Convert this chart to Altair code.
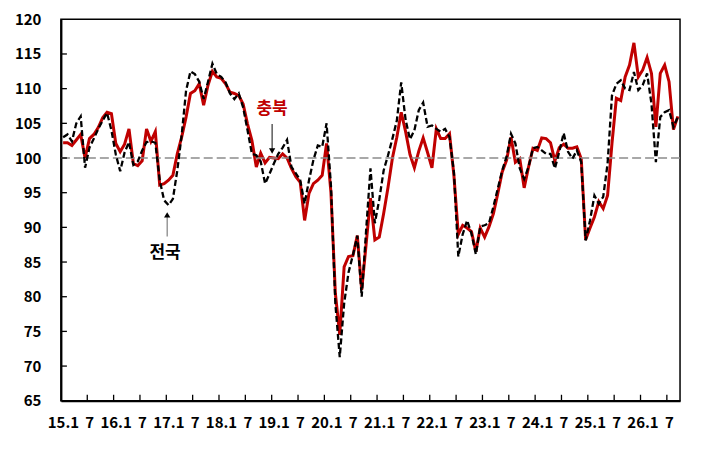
import altair as alt
import pandas as pd

# Monthly index, Jan 2015 .. Sep 2026 (category index 0..140)
chungbuk = [
    102.2, 102.2, 101.8, 102.6, 103.4, 100.0, 102.8, 103.4, 104.4, 105.8,
    106.6, 106.4, 102.1, 100.9, 102.0, 104.2, 99.2, 98.9, 99.6, 104.2,
    102.4, 103.8, 96.1, 96.3, 96.8, 97.5, 100.6, 103.0, 105.9, 109.3,
    109.7, 110.7, 107.6, 110.5, 112.5, 111.7, 111.5, 110.7, 109.5, 109.3,
    109.0, 107.8, 104.9, 102.5, 98.7, 100.7, 99.3, 100.1, 100.0, 99.9,
    100.6, 100.0, 98.5, 97.3, 96.5, 91.0, 94.9, 96.3, 96.8, 97.5,
    102.1, 95.0, 80.5, 74.5, 84.3, 85.8, 85.9, 88.8, 81.0, 87.5,
    94.2, 88.2, 88.6, 92.0, 95.8, 100.0, 103.0, 106.6, 103.8, 100.5,
    98.6, 101.0, 102.9, 100.8, 98.6, 104.2, 102.8, 102.8, 103.5, 97.5,
    89.0, 90.3, 89.9, 89.4, 86.5, 89.9, 88.6, 90.1, 92.0, 94.9,
    98.0, 99.7, 103.0, 99.4, 99.9, 95.7, 98.7, 101.4, 101.1, 102.9,
    102.8, 102.2, 99.6, 101.5, 102.0, 101.4, 101.4, 101.6, 99.9, 88.2,
    89.9, 91.5, 93.7, 92.7, 94.6, 102.1, 108.6, 108.3, 111.7, 113.4,
    116.6, 111.7, 112.7, 114.5, 112.2, 104.5, 112.2, 113.4, 111.0, 104.1,
    106.0,
]
national = [
    103.0, 103.4, 102.4, 105.0, 106.0, 98.6, 101.5, 102.8, 104.2, 105.4,
    106.5, 104.0, 100.5, 98.1, 100.8, 102.3, 99.0, 99.5, 101.1, 102.3,
    102.4, 102.2, 96.8, 93.9, 93.2, 94.1, 98.2, 103.3, 109.7, 112.5,
    112.1, 111.0, 108.5, 111.0, 113.6, 112.1, 111.7, 110.9, 109.3, 108.5,
    109.3, 107.3, 104.0, 100.6, 100.4, 99.5, 96.3, 97.7, 99.2, 100.6,
    101.5, 102.6, 98.7, 97.8, 96.8, 93.4, 96.8, 99.7, 101.8, 101.6,
    105.0, 96.0, 79.0, 71.3, 79.0, 83.5, 86.0, 88.8, 80.0, 89.5,
    98.5, 90.6, 94.0, 98.2, 100.4, 102.8, 105.4, 110.9, 105.5, 102.7,
    104.0, 106.9, 108.0, 104.5, 104.7, 104.2, 103.8, 104.2, 103.0, 98.0,
    85.8, 89.0, 91.0, 89.1, 86.1, 90.1, 90.3, 90.6, 93.0, 95.6,
    98.2, 100.2, 103.5, 102.1, 98.5, 97.0, 98.7, 101.4, 101.6, 101.1,
    100.6, 100.6, 98.5, 100.9, 103.6, 100.9, 99.9, 101.1, 99.4, 88.1,
    91.0, 94.6, 93.4, 94.4, 99.2, 109.0, 110.7, 111.2, 110.0, 109.8,
    112.4, 109.8, 110.5, 112.2, 107.8, 99.4, 105.9, 106.6, 106.9, 104.5,
    105.9,
]
x_labels = ["15.1", "7", "16.1", "7", "17.1", "7", "18.1", "7", "19.1", "7",
            "20.1", "7", "21.1", "7", "22.1", "7", "23.1", "7", "24.1", "7",
            "25.1", "7", "26.1", "7"]
y_ticks = [65, 70, 75, 80, 85, 90, 95, 100, 105, 110, 115, 120]
baseline = [100]

# annotations (label, x index, y value)
ann_text = ["충북", "전국"]
ann_x = [47.6, 23.2]
ann_y = [107.0, 86.3]
ann_color = ["#C00000", "#000000"]
arrow_x = [47.6, 23.7]
arrow_from = [104.9, 88.7]
arrow_to = [101.0, 91.8]
arrow_shape = ["triangle-down", "triangle-up"]
arrow_line_color = ["#333333", "#7f7f7f"]

FONT = "Noto Sans CJK KR"
n = len(chungbuk)
xdom = [-0.5, n - 0.5]
bounds = [k * 6 - 0.5 for k in range(len(x_labels))]

df_cb = pd.DataFrame({"x": list(range(n)), "y": chungbuk})
df_nat = pd.DataFrame({"x": list(range(n)), "y": national})
df_xticks = pd.DataFrame({"x": bounds[1:]})
df_yticks = pd.DataFrame({"y": y_ticks[1:-1]})
df_base = pd.DataFrame({"y": baseline})
df_ann = pd.DataFrame({"t": ann_text, "x": ann_x, "y": ann_y, "c": ann_color})
df_arr = pd.DataFrame({"x": arrow_x, "y": arrow_from, "y2": arrow_to,
                       "s": arrow_shape, "c": arrow_line_color})

xscale = alt.Scale(domain=xdom, nice=False, zero=False)
yscale = alt.Scale(domain=[65, 120], nice=False, zero=False)

label_arr = "[" + ",".join('"%s"' % s for s in x_labels) + "]"

x_axis = alt.Axis(
    values=bounds, labelExpr=label_arr + "[round((datum.value + 0.5) / 6)]",
    ticks=False, labelOffset=2, labelPadding=15, labelFontSize=15,
    labelFontWeight="bold", labelFont=FONT, labelColor="black",
    domainColor="black", domainWidth=1.8, grid=False, title=None,
    labelOverlap=False, labelFlush=False,
)
y_axis = alt.Axis(
    values=y_ticks, ticks=False,
    labelPadding=20, labelFontSize=15, labelFontWeight="bold", labelFont=FONT,
    labelColor="black", domainColor="black", domainWidth=2, grid=False,
    title=None,
)


def X(field="x:Q"):
    return alt.X(field, scale=xscale, axis=x_axis)


def Y(field="y:Q"):
    return alt.Y(field, scale=yscale, axis=y_axis)


red_line = alt.Chart(df_cb).mark_line(color="#C00000", strokeWidth=3).encode(
    x=X(), y=Y()
)

base_rule = alt.Chart(df_base).mark_rule(
    color="#8c8c8c", strokeDash=[9, 4], strokeWidth=1.6
).encode(y=Y())

black_line = alt.Chart(df_nat).mark_line(
    color="black", strokeWidth=2.3, strokeDash=[6, 3]
).encode(x=X(), y=Y())

x_tick_rules = alt.Chart(df_xticks).mark_rule(color="black", strokeWidth=1.3).encode(
    x=X(), y=alt.value(382), y2=alt.value(376),
)
y_tick_rules = alt.Chart(df_yticks).mark_rule(color="black", strokeWidth=1.3).encode(
    y=Y(), x=alt.value(0), x2=alt.value(6),
)

arrow_lines = alt.Chart(df_arr).mark_rule(strokeWidth=1.2).encode(
    x=X(), y=Y(), y2="y2:Q",
    color=alt.Color("c:N", scale=None),
)
arrow_heads = alt.Chart(df_arr).mark_point(
    filled=True, size=40, color="black", opacity=1
).encode(
    x=X(), y=Y("y2:Q"),
    shape=alt.Shape("s:N", scale=None),
)

ann = alt.Chart(df_ann).mark_text(
    font=FONT, fontSize=17, fontWeight="bold", align="center", baseline="middle"
).encode(
    x=X(), y=Y(), text="t:N",
    color=alt.Color("c:N", scale=None),
)

chart = alt.layer(
    red_line, base_rule, black_line, x_tick_rules, y_tick_rules,
    arrow_lines, arrow_heads, ann
).properties(
    width=620, height=382,
    padding={"left": 53, "top": 11, "right": 22, "bottom": 50},
    autosize=alt.AutoSizeParams(type="none"),
    background="white",
).configure_view(stroke="black", strokeWidth=1.5)

chart.save("out.html", embed_options={"renderer": "svg", "actions": False})
